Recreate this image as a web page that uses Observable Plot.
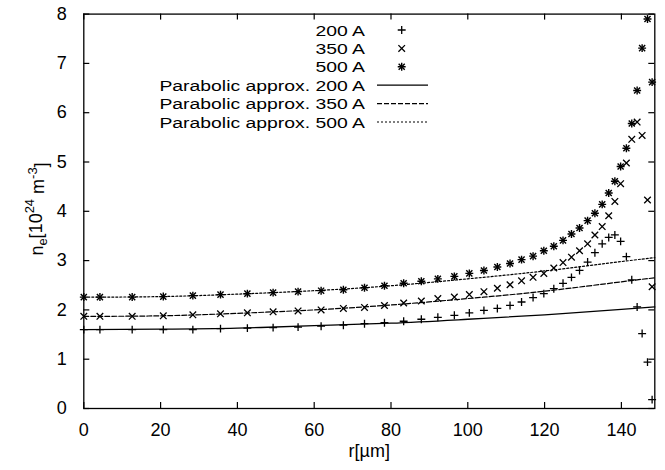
<!DOCTYPE html>
<html><head><meta charset="utf-8">
<script src="https://cdn.jsdelivr.net/npm/d3@7"></script>
<script src="https://cdn.jsdelivr.net/npm/@observablehq/plot@0.6"></script>
<style>
body{margin:0;background:#fff}
svg{font-family:"Liberation Sans",Arial,Helvetica,sans-serif}
</style>
</head><body><div id="chart"></div>
<script>
// ---- data ----
const radius = [0,4.2,12.6,20.7,28.4,35.6,42.6,49.3,55.8,61.8,67.6,73.1,78.3,83.3,87.9,92.2,96.5,100.4,104.2,107.7,111.0,114.0,117.0,119.8,122.4,124.8,127.0,129.1,131.2,133.1,135.0,136.7,138.3,139.8,141.3,142.7,144.1,145.4,146.8,148.0];
const ne200 = [1.60,1.60,1.60,1.60,1.60,1.62,1.63,1.64,1.65,1.67,1.69,1.72,1.74,1.77,1.81,1.85,1.89,1.94,1.99,2.03,2.09,2.16,2.25,2.33,2.43,2.54,2.66,2.80,2.97,3.16,3.34,3.47,3.52,3.39,3.08,2.61,2.06,1.52,0.94,0.18];
const ne350 = [1.87,1.87,1.87,1.88,1.90,1.92,1.94,1.96,1.98,2.00,2.03,2.05,2.09,2.14,2.18,2.23,2.26,2.31,2.37,2.44,2.51,2.59,2.66,2.74,2.85,2.96,3.07,3.20,3.34,3.52,3.69,3.91,4.20,4.56,4.98,5.46,5.81,5.54,4.23,2.47];
const ne500 = [2.26,2.26,2.26,2.27,2.29,2.31,2.33,2.35,2.37,2.39,2.41,2.45,2.49,2.54,2.58,2.63,2.68,2.74,2.80,2.87,2.94,3.02,3.09,3.20,3.29,3.41,3.54,3.66,3.81,3.96,4.14,4.37,4.61,4.91,5.28,5.78,6.45,7.31,7.90,6.62];
const fitRadius = [0,20,40,60,80,100,120,140,148.7];
const fit200 = [1.60,1.61,1.63,1.68,1.73,1.81,1.90,2.01,2.06];
const fit350 = [1.87,1.88,1.93,2.00,2.10,2.23,2.38,2.57,2.65];
const fit500 = [2.26,2.27,2.32,2.39,2.49,2.63,2.79,2.98,3.06];
const xTicks = [0,20,40,60,80,100,120,140];
const yTicks = [0,1,2,3,4,5,6,7,8];
const pointLabels = ["200 A","350 A","500 A"];
const fitLabels = ["Parabolic approx. 200 A","Parabolic approx. 350 A","Parabolic approx. 500 A"];
const xLabel = "r[µm]";

// ---- layout ----
const W = 665, H = 470;
const mL = 83.3, mR = 665 - 654.3, mT = 13.6, mB = 470 - 408;
const innerW = W - mL - mR, innerH = H - mT - mB;
const tickLen = 6;
const FS = 18;
const LFS = 15.5, LSX = 1.25;
const FONT = '"Liberation Sans",Arial,Helvetica,sans-serif';

const rows = (vals) => radius.map((r, i) => ({r, v: vals[i]}));
const fitRows = (vals) => fitRadius.map((r, i) => ({r, v: vals[i]}));
const p200 = rows(ne200), p350 = rows(ne350), p500 = rows(ne500);

const symPlusR = Math.sqrt(22.5 / Math.PI);
const symTimesR = Math.sqrt(30 / Math.PI);
const symStarTimesR = Math.sqrt(26 / Math.PI);

const chart = Plot.plot({
  width: W, height: H,
  marginLeft: mL, marginRight: mR, marginTop: mT, marginBottom: mB,
  style: {fontFamily: FONT, fontSize: FS + "px", color: "black", background: "white"},
  x: {domain: [0, 148.7]},
  y: {domain: [0, 8]},
  marks: [
    Plot.line(fitRows(fit200), {x: "r", y: "v", stroke: "black", strokeWidth: 1.3, curve: "natural"}),
    Plot.line(fitRows(fit350), {x: "r", y: "v", stroke: "black", strokeWidth: 1.2, strokeDasharray: "5,2", curve: "natural"}),
    Plot.line(fitRows(fit500), {x: "r", y: "v", stroke: "black", strokeWidth: 1.2, strokeDasharray: "2,2", curve: "natural"}),
    Plot.dot(p200, {x: "r", y: "v", symbol: "plus", r: symPlusR, stroke: "black", strokeWidth: 1.3}),
    Plot.dot(p350, {x: "r", y: "v", symbol: "times", r: symTimesR, stroke: "black", strokeWidth: 1.3}),
    Plot.dot(p500, {x: "r", y: "v", symbol: "plus", r: symPlusR, stroke: "black", strokeWidth: 1.4}),
    Plot.dot(p500, {x: "r", y: "v", symbol: "times", r: symStarTimesR, stroke: "black", strokeWidth: 1.4}),
    Plot.tickX(xTicks, {x: d => d, insetTop: innerH - tickLen, stroke: "black", strokeWidth: 1.2}),
    Plot.tickX(xTicks, {x: d => d, insetBottom: innerH - tickLen, stroke: "black", strokeWidth: 1.2}),
    Plot.tickY(yTicks, {y: d => d, insetRight: innerW - tickLen, stroke: "black", strokeWidth: 1.2}),
    Plot.tickY(yTicks, {y: d => d, insetLeft: innerW - tickLen, stroke: "black", strokeWidth: 1.2}),
    Plot.axisX(xTicks, {tickSize: 0, tickPadding: 15, label: null, fontSize: FS}),
    Plot.axisY(yTicks, {tickSize: 0, tickPadding: 17, label: null, fontSize: FS}),
    Plot.text([xLabel], {frameAnchor: "bottom", dy: 48, fontSize: FS, fill: "black"}),
    Plot.frame({stroke: "black", strokeWidth: 1.3})
  ]
});
document.getElementById("chart").appendChild(chart);

// ---- y-axis label and legend ----
const svg = d3.select(chart);
const yl = svg.append("text")
  .attr("transform", `translate(43,209) rotate(-90)`)
  .attr("text-anchor", "middle")
  .attr("font-family", FONT).attr("font-size", FS).attr("fill", "black");
yl.append("tspan").text("n");
yl.append("tspan").attr("font-size", FS * 0.72).attr("dy", "0.3em").text("e");
yl.append("tspan").attr("dy", "-0.3em").text("[10");
yl.append("tspan").attr("font-size", FS * 0.72).attr("dy", "-0.55em").text("24");
yl.append("tspan").attr("dy", "0.55em").text(" m");
yl.append("tspan").attr("font-size", FS * 0.72).attr("dy", "-0.55em").text("-3");
yl.append("tspan").attr("dy", "0.55em").text("]");

const lg = svg.append("g").attr("font-family", FONT).attr("font-size", LFS).attr("fill", "black");
const textX = 365, symX = 401.7, lineX1 = 377, lineX2 = 428, row0 = 30, rowH = 18.4;
const allLabels = pointLabels.concat(fitLabels);
allLabels.forEach((t, i) => {
  lg.append("text")
    .attr("transform", `translate(${textX},${row0 + i * rowH}) scale(${LSX},1)`)
    .attr("dy", "0.36em")
    .attr("text-anchor", "end").text(t);
});
const sym = (type, s) => d3.symbol(type, s)();
const addSym = (type, s, i, sw) => lg.append("path").attr("d", sym(type, s))
  .attr("transform", `translate(${symX},${row0 + i * rowH})`)
  .attr("fill", "none").attr("stroke", "black").attr("stroke-width", sw);
addSym(d3.symbolPlus, 22.5, 0, 1.3);
addSym(d3.symbolTimes, 30, 1, 1.3);
addSym(d3.symbolPlus, 22.5, 2, 1.4);
addSym(d3.symbolTimes, 26, 2, 1.4);
const dashes = [null, "5,2", "2,2"];
dashes.forEach((d, i) => {
  const l = lg.append("line").attr("x1", lineX1).attr("x2", lineX2)
    .attr("y1", row0 + (i + 3) * rowH).attr("y2", row0 + (i + 3) * rowH)
    .attr("stroke", "black").attr("stroke-width", 1.2);
  if (d) l.attr("stroke-dasharray", d);
});
</script>
</body></html>
